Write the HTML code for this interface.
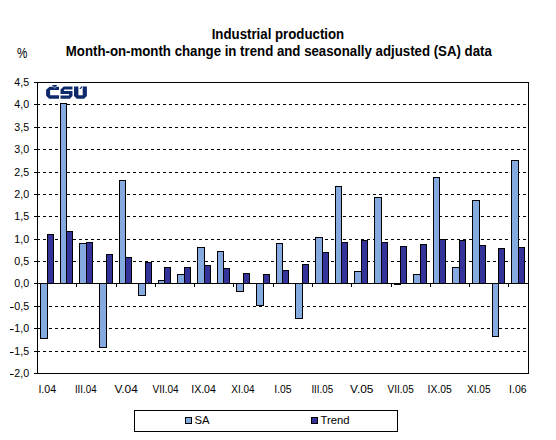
<!DOCTYPE html>
<html><head><meta charset="utf-8"><style>
html,body{margin:0;padding:0;background:#fff;}
svg{display:block;}
text{font-family:"Liberation Sans",sans-serif;fill:#000;}
</style></head><body>
<svg width="556" height="440" viewBox="0 0 556 440">
<rect x="0" y="0" width="556" height="440" fill="#fff"/>
<text x="211.7" y="39.1" font-weight="bold" font-size="13.8" textLength="132.5" lengthAdjust="spacingAndGlyphs">Industrial production</text>
<text x="65.8" y="56.1" font-weight="bold" font-size="13.8" textLength="426" lengthAdjust="spacingAndGlyphs">Month-on-month change in trend and seasonally adjusted (SA) data</text>
<text x="17" y="57.9" font-size="14.5" textLength="10.4" lengthAdjust="spacingAndGlyphs">%</text>
<g shape-rendering="crispEdges">
<line x1="37" y1="104.5" x2="526" y2="104.5" stroke="#000" stroke-width="1" stroke-dasharray="3 3"/>
<line x1="37" y1="127.5" x2="526" y2="127.5" stroke="#000" stroke-width="1" stroke-dasharray="3 3"/>
<line x1="37" y1="149.5" x2="526" y2="149.5" stroke="#000" stroke-width="1" stroke-dasharray="3 3"/>
<line x1="37" y1="172.5" x2="526" y2="172.5" stroke="#000" stroke-width="1" stroke-dasharray="3 3"/>
<line x1="37" y1="194.5" x2="526" y2="194.5" stroke="#000" stroke-width="1" stroke-dasharray="3 3"/>
<line x1="37" y1="216.5" x2="526" y2="216.5" stroke="#000" stroke-width="1" stroke-dasharray="3 3"/>
<line x1="37" y1="239.5" x2="526" y2="239.5" stroke="#000" stroke-width="1" stroke-dasharray="3 3"/>
<line x1="37" y1="261.5" x2="526" y2="261.5" stroke="#000" stroke-width="1" stroke-dasharray="3 3"/>
<line x1="37" y1="306.5" x2="526" y2="306.5" stroke="#000" stroke-width="1" stroke-dasharray="3 3"/>
<line x1="37" y1="328.5" x2="526" y2="328.5" stroke="#000" stroke-width="1" stroke-dasharray="3 3"/>
<line x1="37" y1="351.5" x2="526" y2="351.5" stroke="#000" stroke-width="1" stroke-dasharray="3 3"/>
<rect x="40" y="283" width="8" height="56" fill="#000"/>
<rect x="41" y="284" width="6" height="54" fill="#84AADF"/>
<rect x="47" y="234" width="7" height="50" fill="#000"/>
<rect x="48" y="235" width="5" height="48" fill="#333399"/>
<rect x="60" y="103" width="7" height="181" fill="#000"/>
<rect x="61" y="104" width="5" height="179" fill="#84AADF"/>
<rect x="66" y="231" width="7" height="53" fill="#000"/>
<rect x="67" y="232" width="5" height="51" fill="#333399"/>
<rect x="79" y="243" width="8" height="41" fill="#000"/>
<rect x="80" y="244" width="6" height="39" fill="#84AADF"/>
<rect x="86" y="242" width="7" height="42" fill="#000"/>
<rect x="87" y="243" width="5" height="40" fill="#333399"/>
<rect x="99" y="283" width="8" height="65" fill="#000"/>
<rect x="100" y="284" width="6" height="63" fill="#84AADF"/>
<rect x="106" y="254" width="7" height="30" fill="#000"/>
<rect x="107" y="255" width="5" height="28" fill="#333399"/>
<rect x="119" y="180" width="7" height="104" fill="#000"/>
<rect x="120" y="181" width="5" height="102" fill="#84AADF"/>
<rect x="125" y="257" width="7" height="27" fill="#000"/>
<rect x="126" y="258" width="5" height="25" fill="#333399"/>
<rect x="138" y="283" width="8" height="13" fill="#000"/>
<rect x="139" y="284" width="6" height="11" fill="#84AADF"/>
<rect x="145" y="262" width="7" height="22" fill="#000"/>
<rect x="146" y="263" width="5" height="20" fill="#333399"/>
<rect x="158" y="280" width="7" height="4" fill="#000"/>
<rect x="159" y="281" width="5" height="2" fill="#84AADF"/>
<rect x="164" y="267" width="7" height="17" fill="#000"/>
<rect x="165" y="268" width="5" height="15" fill="#333399"/>
<rect x="177" y="274" width="8" height="10" fill="#000"/>
<rect x="178" y="275" width="6" height="8" fill="#84AADF"/>
<rect x="184" y="267" width="7" height="17" fill="#000"/>
<rect x="185" y="268" width="5" height="15" fill="#333399"/>
<rect x="197" y="247" width="8" height="37" fill="#000"/>
<rect x="198" y="248" width="6" height="35" fill="#84AADF"/>
<rect x="204" y="265" width="7" height="19" fill="#000"/>
<rect x="205" y="266" width="5" height="17" fill="#333399"/>
<rect x="217" y="251" width="7" height="33" fill="#000"/>
<rect x="218" y="252" width="5" height="31" fill="#84AADF"/>
<rect x="223" y="268" width="7" height="16" fill="#000"/>
<rect x="224" y="269" width="5" height="14" fill="#333399"/>
<rect x="236" y="283" width="8" height="9" fill="#000"/>
<rect x="237" y="284" width="6" height="7" fill="#84AADF"/>
<rect x="243" y="273" width="7" height="11" fill="#000"/>
<rect x="244" y="274" width="5" height="9" fill="#333399"/>
<rect x="256" y="283" width="8" height="23" fill="#000"/>
<rect x="257" y="284" width="6" height="21" fill="#84AADF"/>
<rect x="263" y="274" width="7" height="10" fill="#000"/>
<rect x="264" y="275" width="5" height="8" fill="#333399"/>
<rect x="276" y="243" width="7" height="41" fill="#000"/>
<rect x="277" y="244" width="5" height="39" fill="#84AADF"/>
<rect x="282" y="270" width="7" height="14" fill="#000"/>
<rect x="283" y="271" width="5" height="12" fill="#333399"/>
<rect x="295" y="283" width="8" height="36" fill="#000"/>
<rect x="296" y="284" width="6" height="34" fill="#84AADF"/>
<rect x="302" y="264" width="7" height="20" fill="#000"/>
<rect x="303" y="265" width="5" height="18" fill="#333399"/>
<rect x="315" y="237" width="8" height="47" fill="#000"/>
<rect x="316" y="238" width="6" height="45" fill="#84AADF"/>
<rect x="322" y="252" width="7" height="32" fill="#000"/>
<rect x="323" y="253" width="5" height="30" fill="#333399"/>
<rect x="335" y="186" width="7" height="98" fill="#000"/>
<rect x="336" y="187" width="5" height="96" fill="#84AADF"/>
<rect x="341" y="242" width="7" height="42" fill="#000"/>
<rect x="342" y="243" width="5" height="40" fill="#333399"/>
<rect x="354" y="271" width="8" height="13" fill="#000"/>
<rect x="355" y="272" width="6" height="11" fill="#84AADF"/>
<rect x="361" y="240" width="7" height="44" fill="#000"/>
<rect x="362" y="241" width="5" height="42" fill="#333399"/>
<rect x="374" y="197" width="8" height="87" fill="#000"/>
<rect x="375" y="198" width="6" height="85" fill="#84AADF"/>
<rect x="381" y="242" width="7" height="42" fill="#000"/>
<rect x="382" y="243" width="5" height="40" fill="#333399"/>
<rect x="394" y="283" width="7" height="2" fill="#000"/>
<rect x="400" y="246" width="7" height="38" fill="#000"/>
<rect x="401" y="247" width="5" height="36" fill="#333399"/>
<rect x="413" y="274" width="8" height="10" fill="#000"/>
<rect x="414" y="275" width="6" height="8" fill="#84AADF"/>
<rect x="420" y="244" width="7" height="40" fill="#000"/>
<rect x="421" y="245" width="5" height="38" fill="#333399"/>
<rect x="433" y="177" width="7" height="107" fill="#000"/>
<rect x="434" y="178" width="5" height="105" fill="#84AADF"/>
<rect x="439" y="239" width="7" height="45" fill="#000"/>
<rect x="440" y="240" width="5" height="43" fill="#333399"/>
<rect x="452" y="267" width="8" height="17" fill="#000"/>
<rect x="453" y="268" width="6" height="15" fill="#84AADF"/>
<rect x="459" y="240" width="7" height="44" fill="#000"/>
<rect x="460" y="241" width="5" height="42" fill="#333399"/>
<rect x="472" y="200" width="8" height="84" fill="#000"/>
<rect x="473" y="201" width="6" height="82" fill="#84AADF"/>
<rect x="479" y="245" width="7" height="39" fill="#000"/>
<rect x="480" y="246" width="5" height="37" fill="#333399"/>
<rect x="492" y="283" width="7" height="54" fill="#000"/>
<rect x="493" y="284" width="5" height="52" fill="#84AADF"/>
<rect x="498" y="248" width="7" height="36" fill="#000"/>
<rect x="499" y="249" width="5" height="34" fill="#333399"/>
<rect x="511" y="160" width="8" height="124" fill="#000"/>
<rect x="512" y="161" width="6" height="122" fill="#84AADF"/>
<rect x="518" y="247" width="7" height="37" fill="#000"/>
<rect x="519" y="248" width="5" height="35" fill="#333399"/>
<rect x="37.5" y="82.5" width="491" height="291" fill="none" stroke="#000" stroke-width="1"/>
<rect x="37" y="283" width="492" height="1" fill="#000"/>
<rect x="34" y="82" width="3" height="1" fill="#000"/>
<rect x="34" y="104" width="3" height="1" fill="#000"/>
<rect x="34" y="127" width="3" height="1" fill="#000"/>
<rect x="34" y="149" width="3" height="1" fill="#000"/>
<rect x="34" y="172" width="3" height="1" fill="#000"/>
<rect x="34" y="194" width="3" height="1" fill="#000"/>
<rect x="34" y="216" width="3" height="1" fill="#000"/>
<rect x="34" y="239" width="3" height="1" fill="#000"/>
<rect x="34" y="261" width="3" height="1" fill="#000"/>
<rect x="34" y="283" width="3" height="1" fill="#000"/>
<rect x="34" y="306" width="3" height="1" fill="#000"/>
<rect x="34" y="328" width="3" height="1" fill="#000"/>
<rect x="34" y="351" width="3" height="1" fill="#000"/>
<rect x="34" y="373" width="3" height="1" fill="#000"/>
<rect x="76" y="284" width="1" height="3" fill="#000"/>
<rect x="116" y="284" width="1" height="3" fill="#000"/>
<rect x="155" y="284" width="1" height="3" fill="#000"/>
<rect x="194" y="284" width="1" height="3" fill="#000"/>
<rect x="233" y="284" width="1" height="3" fill="#000"/>
<rect x="273" y="284" width="1" height="3" fill="#000"/>
<rect x="312" y="284" width="1" height="3" fill="#000"/>
<rect x="351" y="284" width="1" height="3" fill="#000"/>
<rect x="391" y="284" width="1" height="3" fill="#000"/>
<rect x="430" y="284" width="1" height="3" fill="#000"/>
<rect x="469" y="284" width="1" height="3" fill="#000"/>
<rect x="508" y="284" width="1" height="3" fill="#000"/>
</g>
<g fill="#0F2A6B">
<path d="M49.5,86.7 H59 V90.1 H50.1 V95.2 H59 V98.8 H49.1 L46.1,95.8 V89.8 Z"/>
<path d="M52,85 H57.1 L54.6,88.8 Z"/>
<path d="M63.6,86.4 H72.5 V89.6 H64.1 V91 H72.5 V96.1 L69.8,98.8 H60.5 V95.4 H69.1 V94 H60.5 V89.5 Z"/>
<path d="M74,86.4 H78.4 V95.2 H82.7 V86.4 H86.9 V96 L84.1,98.8 H76.8 L74,96 Z"/>
<path d="M81.1,86.4 H82.7 L80.8,89.1 H79.4 Z"/>
</g>
<polyline points="53,86.1 54.6,88.3 56.2,86.1" fill="none" stroke="#9AA8CC" stroke-width="0.9"/>
<g font-size="10.67">
<text x="29.1" y="86" text-anchor="end">4,5</text>
<text x="29.1" y="108" text-anchor="end">4,0</text>
<text x="29.1" y="131" text-anchor="end">3,5</text>
<text x="29.1" y="153" text-anchor="end">3,0</text>
<text x="29.1" y="176" text-anchor="end">2,5</text>
<text x="29.1" y="198" text-anchor="end">2,0</text>
<text x="29.1" y="220" text-anchor="end">1,5</text>
<text x="29.1" y="243" text-anchor="end">1,0</text>
<text x="29.1" y="265" text-anchor="end">0,5</text>
<text x="29.1" y="287" text-anchor="end">0,0</text>
<text x="29.1" y="310" text-anchor="end">0,5</text>
<rect x="10" y="307" width="3.6" height="1" fill="#000"/>
<text x="29.1" y="332" text-anchor="end">1,0</text>
<rect x="10" y="329" width="3.6" height="1" fill="#000"/>
<text x="29.1" y="355" text-anchor="end">1,5</text>
<rect x="10" y="352" width="3.6" height="1" fill="#000"/>
<text x="29.1" y="377" text-anchor="end">2,0</text>
<rect x="10" y="374" width="3.6" height="1" fill="#000"/>
</g>
<g font-size="10.67">
<text x="38.4" y="392.5" textLength="17.8" lengthAdjust="spacingAndGlyphs">I.04</text>
<text x="74.9" y="392.5" textLength="21.7" lengthAdjust="spacingAndGlyphs">III.04</text>
<text x="114.4" y="392.5" textLength="23.4" lengthAdjust="spacingAndGlyphs">V.04</text>
<text x="152.5" y="392.5" textLength="26.2" lengthAdjust="spacingAndGlyphs">VII.04</text>
<text x="191.2" y="392.5" textLength="24.7" lengthAdjust="spacingAndGlyphs">IX.04</text>
<text x="231.3" y="392.5" textLength="23.2" lengthAdjust="spacingAndGlyphs">XI.04</text>
<text x="274.3" y="392.5" textLength="17.3" lengthAdjust="spacingAndGlyphs">I.05</text>
<text x="311.4" y="392.5" textLength="21.7" lengthAdjust="spacingAndGlyphs">III.05</text>
<text x="350.1" y="392.5" textLength="23.4" lengthAdjust="spacingAndGlyphs">V.05</text>
<text x="387.6" y="392.5" textLength="26.1" lengthAdjust="spacingAndGlyphs">VII.05</text>
<text x="427.6" y="392.5" textLength="24.2" lengthAdjust="spacingAndGlyphs">IX.05</text>
<text x="467.0" y="392.5" textLength="23.6" lengthAdjust="spacingAndGlyphs">XI.05</text>
<text x="509.1" y="392.5" textLength="17.4" lengthAdjust="spacingAndGlyphs">I.06</text>
</g>
<rect x="134.5" y="410.5" width="263" height="21" fill="none" stroke="#000" stroke-width="1" shape-rendering="crispEdges"/>
<rect x="185.5" y="417.5" width="6" height="6" fill="#84AADF" stroke="#000" stroke-width="1" shape-rendering="crispEdges"/>
<text x="194.5" y="424" font-size="11.3">SA</text>
<rect x="311.5" y="417.5" width="6" height="6" fill="#333399" stroke="#000" stroke-width="1" shape-rendering="crispEdges"/>
<text x="320.5" y="424" font-size="11.3">Trend</text>
</svg>
</body></html>
